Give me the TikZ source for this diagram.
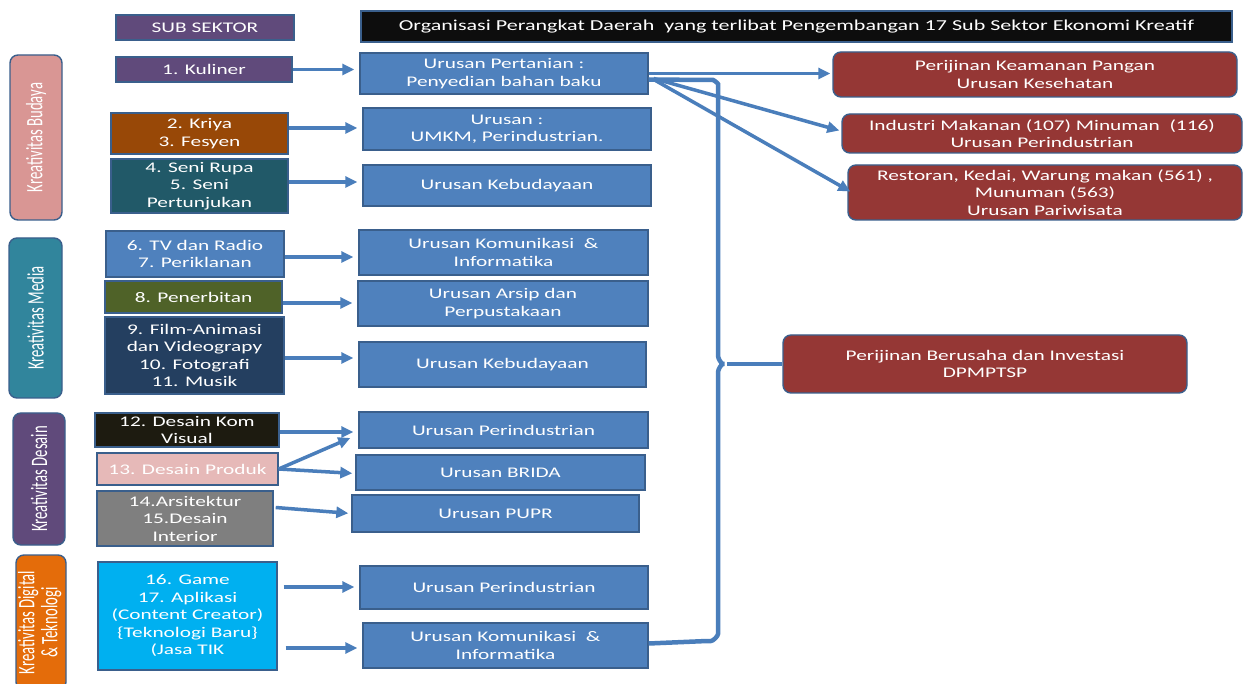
\documentclass[tikz,border=0pt]{standalone}
\usepackage{fontspec}
\setmainfont{Carlito}[FakeStretch=1.45]
\newfontfamily\vfont{Carlito}
\usetikzlibrary{arrows.meta,calc}
\definecolor{bdr}{HTML}{3A5F8C}
\definecolor{blueF}{HTML}{4F81BD}
\definecolor{lineC}{HTML}{4A7EBB}
\definecolor{redF}{HTML}{953735}
\definecolor{purpF}{HTML}{604A7B}
\definecolor{pinkL}{HTML}{D99694}
\definecolor{brownF}{HTML}{984807}
\definecolor{tealD}{HTML}{215968}
\definecolor{tealL}{HTML}{31859C}
\definecolor{oliveF}{HTML}{4F6228}
\definecolor{navyF}{HTML}{243F60}
\definecolor{darkF}{HTML}{1D1B10}
\definecolor{pinkF}{HTML}{E6B9B8}
\definecolor{grayF}{HTML}{7F7F7F}
\definecolor{orangeF}{HTML}{E46C0A}
\definecolor{cyanF}{HTML}{00B0F0}
\definecolor{hdrF}{HTML}{0D0D0D}
\newcommand{\vtext}[1]{\rotatebox{90}{\scalebox{1}[1.6]{\vfont\fontsize{14.7}{14}\selectfont #1}}}
\begin{document}
\begin{tikzpicture}[x=1pt,y=-1pt,
  box/.style={draw=bdr, line width=1.4pt, text=white, align=center, inner sep=0pt,
    font=\fontsize{14.7}{17.5}\selectfont},
  mid/.style={box, fill=blueF},
  redbox/.style={box, fill=redF, rounded corners=8pt},
  lbl/.style={box, rounded corners=8pt},
  conn/.style={draw=lineC, line width=3.5pt},
  arr/.style={conn, -{Triangle[length=12pt,width=11pt]}, shorten >=5pt},
  brace/.style={draw=lineC, line width=4.5pt, rounded corners=4pt}
]
\useasboundingbox (0,0) rectangle (1243,684);
\clip (0,0) rectangle (1243,684);
\fill[white] (0,0) rectangle (1243,684);

% headers
\node[box, fill=purpF, minimum width=178, minimum height=25] (sub) at (205,27.5) {SUB SEKTOR};
\node[box, fill=hdrF, minimum width=871, minimum height=31, font=\fontsize{15.2}{17.5}\selectfont] (hdr) at (796.5,26.5)
  {Organisasi Perangkat Daerah\ \ yang terlibat Pengembangan 17 Sub Sektor Ekonomi Kreatif};

% group labels
\node[lbl, fill=pinkL, minimum width=52, minimum height=165] (bud) at (36,137.5) {\vtext{Kreativitas Budaya}};
\node[lbl, fill=tealL, minimum width=53, minimum height=160] (med) at (35.5,318) {\vtext{Kreativitas Media}};
\node[lbl, fill=purpF, minimum width=52, minimum height=132] (des) at (39,479) {\vtext{Kreativitas Desain}};
\node[lbl, fill=orangeF, minimum width=50, minimum height=135] (dig) at (41,622.5)
  {\vtext{\begin{tabular}{@{}c@{}}Kreativitas Digital\\\& Teknologi\end{tabular}}};

% sub sectors
\node[box, fill=purpF, minimum width=176, minimum height=25] (kul) at (204,69.5) {1. Kuliner};
\node[box, fill=brownF, minimum width=177, minimum height=41] (kri) at (199.5,133.5) {2. Kriya\\3. Fesyen};
\node[box, fill=tealD, minimum width=177, minimum height=54] (sen) at (199.5,186) {4. Seni Rupa\\5. Seni\\Pertunjukan};
\node[box, fill=blueF, minimum width=178, minimum height=46] (tv) at (195,254) {6. TV dan Radio\\7. Periklanan};
\node[box, fill=oliveF, minimum width=177, minimum height=32] (pen) at (193.5,297) {8. Penerbitan};
\node[box, fill=navyF, minimum width=179, minimum height=77] (fil) at (194.5,355.5)
  {9. Film-Animasi\\dan Videograpy\\10. Fotografi\\11. Musik};
\node[box, fill=darkF, minimum width=184, minimum height=34] (kom) at (187,430) {12. Desain Kom\\Visual};
\node[box, fill=pinkF, minimum width=181, minimum height=32] (pro) at (187.5,469) {13. Desain Produk};
\node[box, fill=grayF, minimum width=176, minimum height=55] (ars) at (185,518.5) {14.Arsitektur\\15.Desain\\Interior};
\node[box, fill=cyanF, minimum width=179, minimum height=108] (gam) at (187.5,616)
  {16. Game\\17. Aplikasi\\(Content Creator)\\\{Teknologi Baru\}\\(Jasa TIK};

% urusan
\node[mid, minimum width=288, minimum height=41] (per) at (504,73.5) {Urusan Pertanian :\\Penyedian bahan baku};
\node[mid, minimum width=288, minimum height=42] (umk) at (507,129) {Urusan :\\UMKM, Perindustrian.};
\node[mid, minimum width=288, minimum height=41] (keb1) at (507,185.5) {Urusan Kebudayaan};
\node[mid, minimum width=289, minimum height=45] (kif1) at (503.5,252.5) {Urusan Komunikasi\ \ \&\\Informatika};
\node[mid, minimum width=290, minimum height=45] (arp) at (503,303.5) {Urusan Arsip dan\\Perpustakaan};
\node[mid, minimum width=287, minimum height=45] (keb2) at (502.5,364.5) {Urusan Kebudayaan};
\node[mid, minimum width=289, minimum height=36] (ind1) at (503.5,430) {Urusan Perindustrian};
\node[mid, minimum width=289, minimum height=35] (bri) at (500.5,472.5) {Urusan BRIDA};
\node[mid, minimum width=287, minimum height=37] (pup) at (495.5,513.5) {Urusan PUPR};
\node[mid, minimum width=288, minimum height=43] (ind2) at (504,587.5) {Urusan Perindustrian};
\node[mid, minimum width=285, minimum height=45] (kif2) at (505.5,645.5) {Urusan Komunikasi\ \ \&\\Informatika};

% right boxes
\node[redbox, minimum width=404, minimum height=45] (kea) at (1035,74.5) {Perijinan Keamanan Pangan\\Urusan Kesehatan};
\node[redbox, minimum width=400, minimum height=39] (inm) at (1042,133.5) {Industri Makanan (107) Minuman\ \ (116)\\Urusan Perindustrian};
\node[redbox, minimum width=394, minimum height=55] (res) at (1045,192.5) {Restoran, Kedai, Warung makan (561) ,\\Munuman (563)\\Urusan Pariwisata};
\node[redbox, minimum width=404, minimum height=58] (dpm) at (985,364) {Perijinan Berusaha dan Investasi\\DPMPTSP};

% left arrows
\draw[arr] (kul.east) -- (kul.east -| per.west);
\draw[arr] ([yshift=5.5pt]kri.east) -- ([yshift=5.5pt]kri.east -| umk.west);
\draw[arr] ([yshift=4pt]sen.east) -- ([yshift=4pt]sen.east -| keb1.west);
\draw[arr] ([yshift=-3pt]tv.east) -- ([yshift=-3pt]tv.east -| kif1.west);
\draw[arr] ([yshift=-6pt]pen.east) -- ([yshift=-6pt]pen.east -| arp.west);
\draw[arr] ([yshift=-2.5pt]fil.east) -- ([yshift=-2.5pt]fil.east -| keb2.west);
\draw[arr] ([yshift=-2pt]kom.east) -- ([yshift=-2pt]kom.east -| ind1.west);
\draw[arr, shorten >=0pt] (pro.east) -- ($(ind1.west)+(-8,8)$);
\draw[arr, shorten >=3pt] (pro.east) -- ($(bri.west)+(0,1)$);
\draw[arr, shorten >=3pt] ($(ars.east)+(2,-11)$) -- (pup.west);
\coordinate (g1) at ($(gam.east)+(6,-29)$);
\coordinate (g2) at ($(gam.east)+(8,32)$);
\draw[arr] (g1) -- (g1 -| ind2.west);
\draw[arr] (g2) -- (g2 -| kif2.west);

% right arrows
\draw[arr, shorten >=2pt] (per.east) -- (per.east -| kea.west);
\draw[arr, shorten >=0pt] ($(per.east)+(5,5)$) -- ($(inm.west)+(-2,-3)$);
\draw[arr, shorten >=0pt] ($(per.east)+(5,6)$) -- ($(res.west)+(3,-1)$);

% brace to DPMPTSP
\coordinate (btop) at (718,88);
\coordinate (bbot) at (718,630);
\coordinate (tip) at (727,364);
\draw[brace] ($(per.east)+(0,6)$) -- (709,80) to[out=0,in=90] (btop) -- (718,352)
  to[out=-90,in=180] (tip) to[out=180,in=90] (718,376) -- (bbot)
  to[out=-90,in=0] (707,641) -- ($(kif2.east)+(0,-2)$);
\draw[conn] (tip) -- (dpm.west);
\end{tikzpicture}
\end{document}
